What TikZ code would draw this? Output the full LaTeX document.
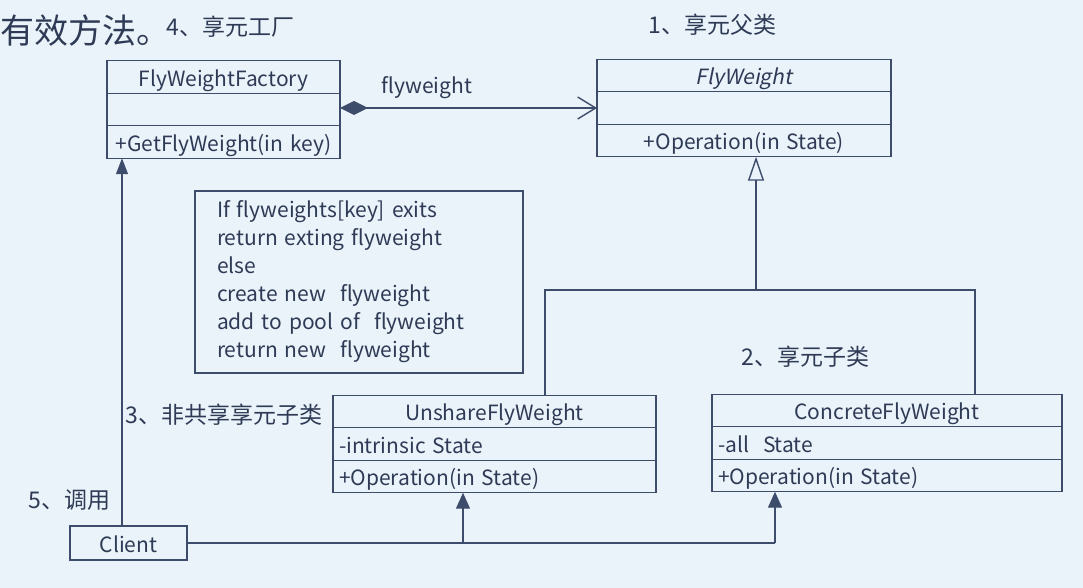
\documentclass[tikz,border=0pt]{standalone}
\usepackage{fontspec}
\setmainfont{Noto Sans CJK SC}
\newfontfamily\slantfont{Noto Sans CJK SC}[FakeSlant=0.2]
\usepackage{xcolor}
\usetikzlibrary{arrows.meta, positioning}
\definecolor{bg}{HTML}{E9F3F9}
\definecolor{umlline}{HTML}{3E4C6C}
\definecolor{umltext}{HTML}{2F3A56}

\tikzset{
  part/.style={draw=umlline, line width=0.7pt, inner xsep=3pt, inner ysep=0pt, outer sep=0pt,
    minimum height=16.25pt, text width=#1, text height=10pt, text depth=0.5pt,
    font=\fontsize{10.5}{12}\selectfont, text=umltext},
  cpart/.style={part=#1, align=center},
  lpart/.style={part=#1, align=left},
  remark/.style={font=\fontsize{11.5}{13}\selectfont, text=umltext, inner sep=0pt},
  link/.style={draw=umlline, line width=0.7pt},
}

\begin{document}
\begin{tikzpicture}[x=0.5pt, y=-0.5pt]
\fill [bg] (0,0) rectangle (1083,588);

% labels
\node (title) at (0,31) [anchor=west, inner sep=0pt, font=\fontsize{17}{17}\selectfont, text=umltext] {有效方法。};
\node (lab4) at (166,27) [remark, anchor=west] {4、享元工厂};
\node (lab1) at (648,25) [remark, anchor=west] {1、享元父类};
\node (lab2) at (741,357) [remark, anchor=west] {2、享元子类};
\node (lab3) at (125,415) [remark, anchor=west] {3、非共享享元子类};
\node (lab5) at (28,500) [remark, anchor=west] {5、调用};

% factory
\node (ftop) at (223.5,77) [cpart=110.5pt] {FlyWeightFactory};
\node (fmid) [cpart=110.5pt, below=0pt of ftop] {};
\node (fbot) [cpart=110.5pt, below=0pt of fmid] {+GetFlyWeight(in key)};

% flyweight
\node (fwtop) at (744,75.5) [cpart=141pt] {\slantfont FlyWeight};
\node (fwmid) [cpart=141pt, below=0pt of fwtop] {};
\node (fwbot) [cpart=141pt, below=0pt of fwmid] {+Operation(in State)};

% unshared / concrete
\node (utop) at (494.5,411.5) [cpart=155.5pt] {UnshareFlyWeight};
\node (umid) [lpart=155.5pt, below=0pt of utop] {-intrinsic State};
\node (ubot) [lpart=155.5pt, below=0pt of umid] {+Operation(in State)};

\node (ctop) at (887,410.5) [cpart=169pt] {ConcreteFlyWeight};
\node (cmid) [lpart=169pt, below=0pt of ctop] {-all~ State};
\node (cbot) [lpart=169pt, below=0pt of cmid] {+Operation(in State)};

% note
\node (note) at (359,282) [draw=umlline, line width=0.7pt, text width=142pt, inner xsep=11pt, minimum height=91pt,
  align=left, font=\fontsize{10.5}{14}\selectfont, text=umltext]
  {If flyweights[key] exits\\ return exting flyweight\\ else\\ create new~ flyweight\\ add to pool of~ flyweight\\ return new~ flyweight};

\node (client) at (128.5,543) [draw=umlline, line width=0.7pt, minimum width=58.5pt, minimum height=17pt,
  inner sep=0pt, text height=10pt, text depth=0.5pt, font=\fontsize{10.5}{12}\selectfont, text=umltext] {Client};

% aggregation
\draw [link, {Diamond[length=14pt,width=7pt]}-{Straight Barb[length=9pt,width=11pt]}] (fwmid.west -| fmid.east) -- (fwmid.west);
\node (flw) at (427,88) [remark, font=\fontsize{10.5}{12}\selectfont] {flyweight};

% inheritance
\coordinate (split) at (756,290);
\coordinate (jl) at (545,290);
\coordinate (jr) at (975,290);
\draw [link, -{Triangle[open, length=12pt, width=8pt]}] (split) -- (fwbot.south -| split);
\draw [link] (utop.north -| jl) -- (jl) -- (jr) -- (ctop.north -| jr);

% client calls
\coordinate (cx) at (122,543);
\coordinate (ua) at (463,543);
\coordinate (ca) at (775,543);
\draw [link, -{Triangle[length=8pt,width=6pt]}] (client.north -| cx) -- (fbot.south -| cx);
\draw [link] (client.east) -- (ca);
\draw [link, -{Triangle[length=8pt,width=7pt]}] (ua) -- (ubot.south -| ua);
\draw [link, -{Triangle[length=8pt,width=7pt]}] (ca) -- (cbot.south -| ca);
\end{tikzpicture}
\end{document}
